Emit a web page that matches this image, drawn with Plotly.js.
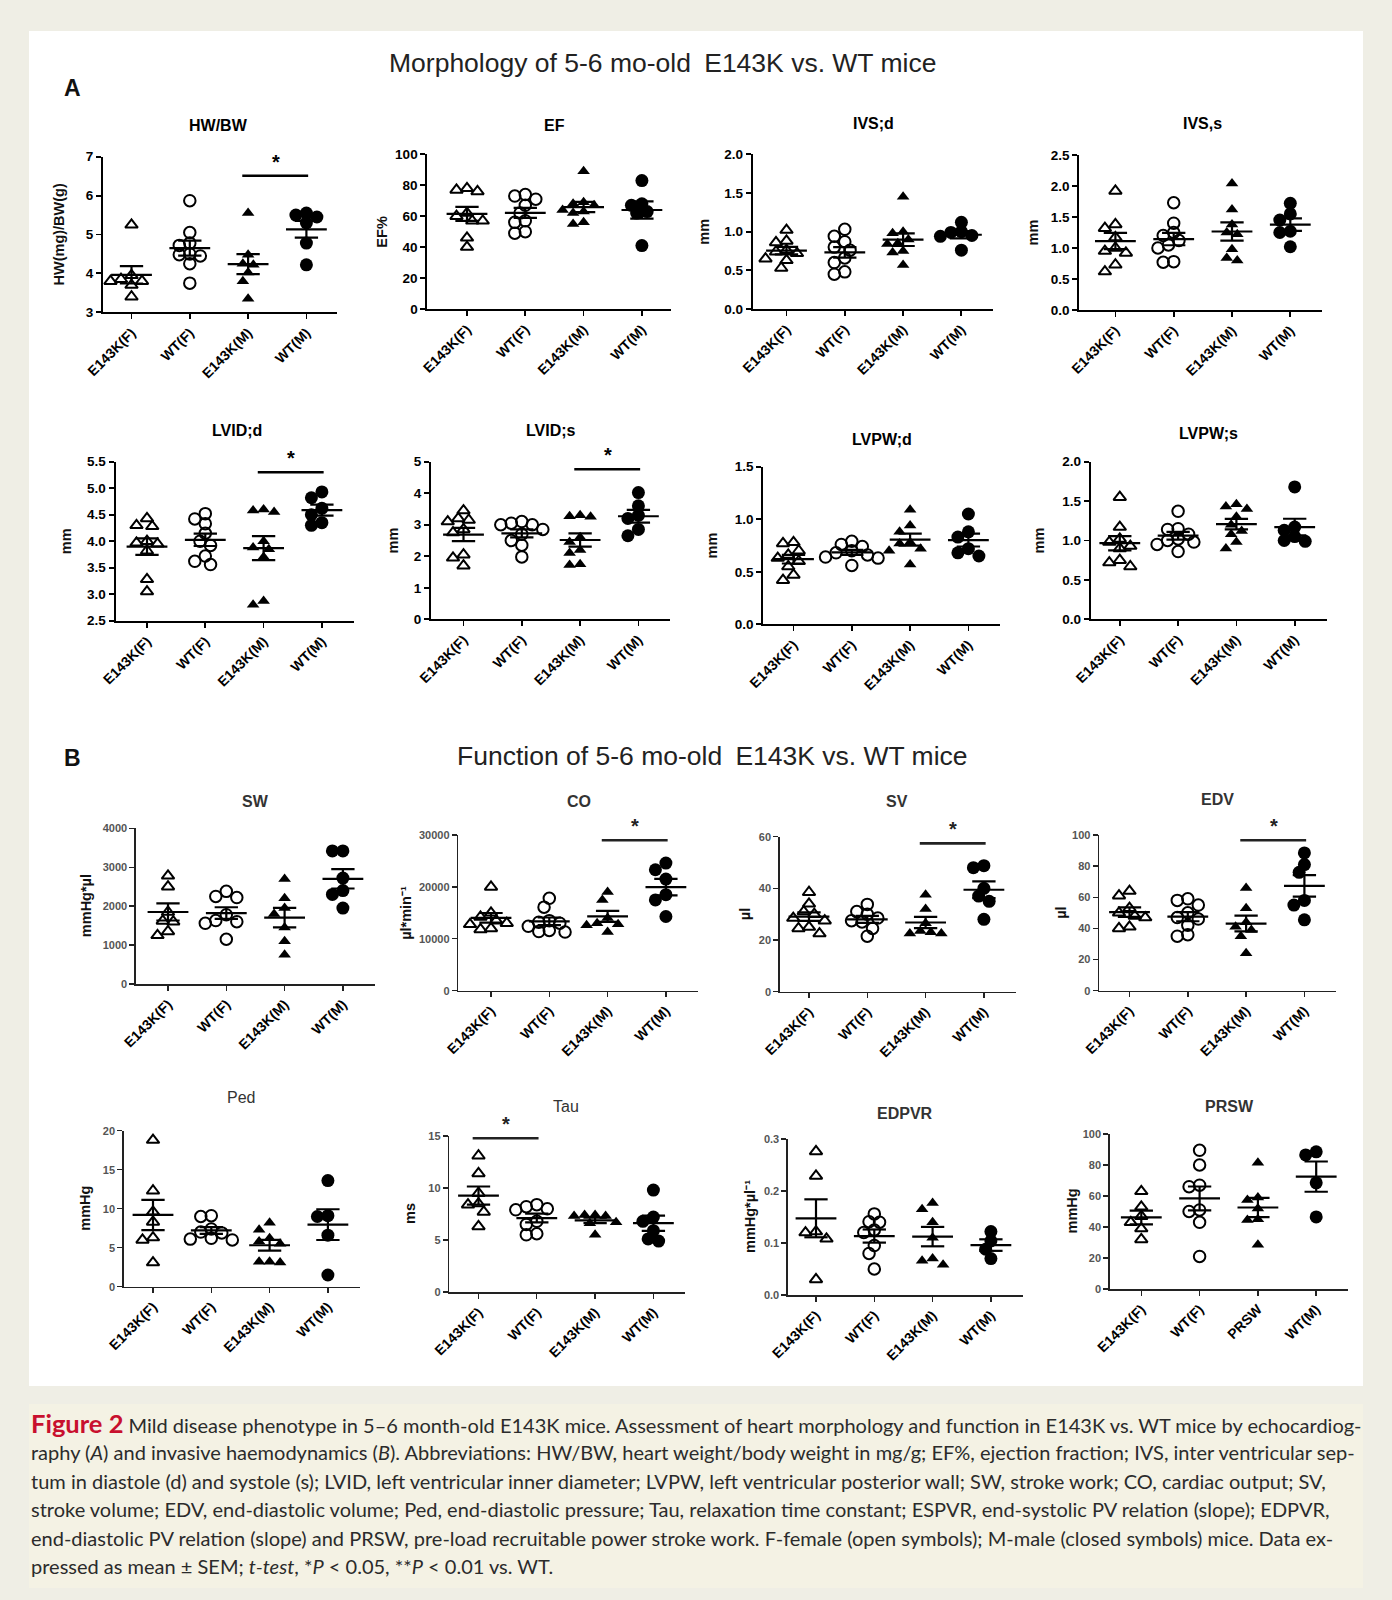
<!DOCTYPE html>
<html><head><meta charset="utf-8">
<script src="https://cdn.plot.ly/plotly-3.0.1.min.js"></script>
<style>html,body{margin:0;padding:0;background:#efeee5}</style>
</head><body><div id="chart" style="width:1392px;height:1600px"></div>
<script>
// ---------- categories ----------
const groups = ["E143K(F)", "WT(F)", "E143K(M)", "WT(M)"];
const groupsPRSW = ["E143K(F)", "WT(F)", "PRSW", "WT(M)"];

// ---------- values: [E143K(F), WT(F), E143K(M), WT(M)] ----------
const hwbw = [[5.25, 3.95, 3.85, 3.8, 3.8, 3.7, 3.4],
              [5.87, 5.05, 4.78, 4.72, 4.5, 4.48, 4.45, 4.25, 3.75],
              [5.55, 4.48, 4.25, 4.22, 4.02, 3.8, 3.35],
              [5.55, 5.5, 5.45, 5.3, 4.78, 4.22]];
const ef = [[78, 77, 76, 62, 60, 57, 57, 46, 40],
            [74, 73, 71, 67, 62, 57, 56, 50, 49],
            [89, 69, 68, 67, 64, 63, 62, 56, 55],
            [83, 68, 67, 63, 62, 41]];
const ivsd = [[1.02, 0.88, 0.86, 0.76, 0.74, 0.72, 0.65, 0.63, 0.53],
              [1.03, 0.94, 0.87, 0.8, 0.76, 0.66, 0.6, 0.48, 0.45],
              [1.45, 1.0, 0.98, 0.9, 0.85, 0.84, 0.75, 0.73, 0.57],
              [1.12, 1.0, 0.99, 0.95, 0.94, 0.76]];
const ivss = [[1.92, 1.38, 1.32, 1.17, 1.0, 0.95, 0.92, 0.73, 0.62],
              [1.73, 1.4, 1.25, 1.2, 1.12, 1.05, 1.0, 0.78, 0.77],
              [2.04, 1.62, 1.38, 1.25, 1.22, 0.98, 0.84, 0.8],
              [1.72, 1.55, 1.45, 1.27, 1.25, 1.02]];
const lvidd = [[4.43, 4.3, 4.28, 4.0, 3.97, 3.95, 3.82, 3.28, 3.05],
               [4.52, 4.42, 4.33, 4.15, 4.0, 3.92, 3.72, 3.62, 3.56],
               [4.6, 4.58, 4.55, 4.0, 3.88, 3.85, 3.7, 2.87, 2.8],
               [4.93, 4.82, 4.62, 4.5, 4.35, 4.3]];
const lvids = [[3.45, 3.2, 3.15, 3.1, 2.85, 2.75, 2.05, 1.95, 1.7],
               [3.1, 3.05, 3.0, 3.0, 2.85, 2.7, 2.5, 2.35, 1.98],
               [3.3, 3.27, 3.25, 2.6, 2.45, 2.2, 2.1, 1.75, 1.72],
               [4.02, 3.6, 3.3, 3.2, 2.85, 2.65]];
const lvpwd = [[0.78, 0.77, 0.7, 0.66, 0.63, 0.6, 0.55, 0.47, 0.42],
               [0.79, 0.76, 0.74, 0.7, 0.68, 0.66, 0.64, 0.63, 0.56],
               [1.09, 0.94, 0.88, 0.78, 0.77, 0.72, 0.7, 0.57],
               [1.05, 0.88, 0.83, 0.72, 0.68, 0.65]];
const lvpws = [[1.55, 1.17, 1.02, 0.98, 0.93, 0.9, 0.75, 0.72, 0.67],
               [1.37, 1.15, 1.14, 1.08, 1.02, 1.0, 0.98, 0.95, 0.86],
               [1.46, 1.43, 1.4, 1.3, 1.2, 1.12, 1.08, 0.98, 0.9],
               [1.68, 1.17, 1.13, 1.05, 1.0, 0.99]];
const sw = [[2780, 2500, 1850, 1620, 1600, 1350, 1250],
            [2380, 2250, 2220, 1780, 1630, 1600, 1560, 1150],
            [2700, 2200, 1950, 1800, 1450, 1100, 750],
            [3420, 3420, 2720, 2400, 2300, 1950]];
const co = [[20000, 15000, 14200, 13500, 13000, 12800, 12000, 11800],
            [17800, 16100, 13500, 13200, 13000, 12400, 11600, 11400, 11300],
            [19000, 17500, 14000, 13000, 12800, 12600, 11300],
            [24600, 23300, 21500, 18500, 17500, 14300]];
const sv = [[38.5, 34, 31, 30, 28.5, 27.5, 25, 24.5, 22.5],
            [33.8, 31, 30, 28.5, 27.5, 27, 24.5, 21.5],
            [37.5, 32, 26.5, 23.5, 23, 22.5, 22.5],
            [48.8, 48, 40, 37, 35, 28]];
const edv = [[64, 61, 53, 50, 48, 47, 41, 40],
             [59, 58, 55, 50, 47, 46, 42, 36, 35],
             [66, 53, 44, 41, 39, 35, 24],
             [88.5, 81, 76, 58, 55, 45.5]];
const ped = [[18.8, 12.3, 9.6, 8.3, 6.3, 6.0, 3.1],
             [9.1, 9.0, 7.4, 7.0, 6.9, 6.2, 6.1, 6.0],
             [8.2, 7.3, 6.2, 5.8, 5.5, 3.2, 3.2, 3.1],
             [13.6, 9.1, 9.0, 6.6, 1.5]];
const tau = [[13.1, 11.4, 9.5, 8.5, 8.4, 7.7, 6.3],
             [8.4, 8.2, 8.0, 7.9, 6.8, 6.5, 5.6, 5.5],
             [7.4, 7.4, 7.3, 7.3, 6.7, 6.6, 5.5],
             [9.8, 7.2, 6.8, 5.9, 5.1, 4.9]];
const edpvr = [[0.276, 0.229, 0.122, 0.12, 0.108, 0.03],
               [0.156, 0.141, 0.14, 0.125, 0.12, 0.095, 0.08, 0.05],
               [0.177, 0.165, 0.14, 0.11, 0.07, 0.066, 0.058],
               [0.122, 0.104, 0.088, 0.07]];
const prsw = [[63, 53, 47, 43, 39, 32],
              [89.5, 80, 67, 66, 51, 50, 43, 21],
              [81.5, 59, 57.5, 52, 45, 44.5, 28.5],
              [88.5, 86.5, 68.5, 46.5]];

// ---------- y tick values ----------
const ticksHW = [3, 4, 5, 6, 7];
const ticksEF = [0, 20, 40, 60, 80, 100];
const ticksIVSd = [0, 0.5, 1.0, 1.5, 2.0];
const ticksIVSs = [0, 0.5, 1.0, 1.5, 2.0, 2.5];
const ticksLVIDd = [2.5, 3.0, 3.5, 4.0, 4.5, 5.0, 5.5];
const ticksLVIDs = [0, 1, 2, 3, 4, 5];
const ticksLVPWd = [0, 0.5, 1.0, 1.5];
const ticksLVPWs = [0, 0.5, 1.0, 1.5, 2.0];
const ticksSW = [0, 1000, 2000, 3000, 4000];
const ticksCO = [0, 10000, 20000, 30000];
const ticksSV = [0, 20, 40, 60];
const ticksEDV = [0, 20, 40, 60, 80, 100];
const ticksPed = [0, 5, 10, 15, 20];
const ticksTau = [0, 5, 10, 15];
const ticksEDPVR = [0, 0.1, 0.2, 0.3];
const ticksPRSW = [0, 20, 40, 60, 80, 100];

// ---------- layout configuration (pixel geometry) ----------
const W = 1392, H = 1600, SP = 58.3;
const panels = [
 {title:'HW/BW', vals:hwbw, cats:groups, ticks:ticksHW, dec:0, ytitle:'HW(mg)/BW(g)', c0:131.5, pl:0.49, pr:0.52, yt:156.7, yb:312.3, tx:218.5, ty:126, ytx:58, sig:[2,3,19], sec:'A'},
 {title:'EF', vals:ef, cats:groups, ticks:ticksEF, dec:0, ytitle:'EF%', c0:467, pl:0.68, pr:0.5, yt:154.3, yb:309, tx:554, ty:126, ytx:382, sec:'A'},
 {title:'IVS;d', vals:ivsd, cats:groups, ticks:ticksIVSd, dec:1, ytitle:'mm', c0:786.5, pl:0.58, pr:0.55, yt:154.3, yb:309, tx:873.5, ty:123, ytx:704, sec:'A'},
 {title:'IVS,s', vals:ivss, cats:groups, ticks:ticksIVSs, dec:1, ytitle:'mm', c0:1115.4, pl:0.62, pr:0.55, yt:155, yb:310, tx:1202, ty:123, ytx:1033, sec:'A'},
 {title:'LVID;d', vals:lvidd, cats:groups, ticks:ticksLVIDd, dec:1, ytitle:'mm', c0:147, pl:0.54, pr:0.55, yt:461.7, yb:620.7, tx:237, ty:430, ytx:66, sig:[2,3,10.6], sec:'A'},
 {title:'LVID;s', vals:lvids, cats:groups, ticks:ticksLVIDs, dec:0, ytitle:'mm', c0:463.5, pl:0.56, pr:0.55, yt:461.7, yb:619.3, tx:551, ty:430, ytx:392, sig:[2,3,7.6], sec:'A'},
 {title:'LVPW;d', vals:lvpwd, cats:groups, ticks:ticksLVPWd, dec:1, ytitle:'mm', c0:793.5, pl:0.52, pr:0.55, yt:466.7, yb:624.3, tx:882, ty:439, ytx:711, sec:'A'},
 {title:'LVPW;s', vals:lvpws, cats:groups, ticks:ticksLVPWs, dec:1, ytitle:'mm', c0:1119.8, pl:0.5, pr:0.55, yt:461.7, yb:619.3, tx:1208, ty:433, ytx:1038, sec:'A'},
 {title:'SW', vals:sw, cats:groups, ticks:ticksSW, dec:0, ytitle:'mmHg*µl', c0:168, pl:0.55, pr:0.55, yt:828.3, yb:984, tx:255, ty:801, ytx:86, sec:'B'},
 {title:'CO', vals:co, cats:groups, ticks:ticksCO, dec:0, ytitle:'µl*min⁻¹', c0:491, pl:0.56, pr:0.55, yt:835, yb:990.7, tx:578.6, ty:801, ytx:406, sig:[2,3,5.3], sec:'B'},
 {title:'SV', vals:sv, cats:groups, ticks:ticksSV, dec:0, ytitle:'µl', c0:809, pl:0.5, pr:0.55, yt:836.7, yb:991.7, tx:897, ty:801, ytx:745, sig:[2,3,6.7], sec:'B'},
 {title:'EDV', vals:edv, cats:groups, ticks:ticksEDV, dec:0, ytitle:'µl', c0:1129.5, pl:0.52, pr:0.55, yt:835, yb:990.7, tx:1217.5, ty:799, ytx:1061, sig:[2,3,5.3], sec:'B'},
 {title:'Ped', vals:ped, cats:groups, ticks:ticksPed, dec:0, ytitle:'mmHg', c0:153, pl:0.5, pr:0.55, yt:1130.7, yb:1286.7, tx:241, ty:1097, ytx:85, sec:'B', light:true},
 {title:'Tau', vals:tau, cats:groups, ticks:ticksTau, dec:0, ytitle:'ms', c0:478.5, pl:0.5, pr:0.55, yt:1136, yb:1292, tx:566, ty:1106, ytx:410, sig:[0,1,2.3], sec:'B', light:true},
 {title:'EDPVR', vals:edpvr, cats:groups, ticks:ticksEDPVR, dec:1, ytitle:'mmHg*µl⁻¹', c0:816, pl:0.48, pr:0.55, yt:1139, yb:1295, tx:905, ty:1113, ytx:750, sec:'B'},
 {title:'PRSW', vals:prsw, cats:groupsPRSW, ticks:ticksPRSW, dec:0, ytitle:'mmHg', c0:1141.3, pl:0.54, pr:0.55, yt:1134, yb:1289, tx:1229, ty:1106, ytx:1071, sec:'B'}
];

const FONT = 'Liberation Sans, Arial, Helvetica, sans-serif';
const symbols = ['triangle-up-open', 'circle-open', 'triangle-up', 'circle'];
const msize = [11, 11.5, 11, 13];
const D = 10.5; // marker footprint for spreading (px)

function meanSem(a) {
  const n = a.length, m = a.reduce((s, v) => s + v, 0) / n;
  const sd = Math.sqrt(a.reduce((s, v) => s + (v - m) * (v - m), 0) / (n - 1));
  return [m, sd / Math.sqrt(n)];
}
function spread(vals, pxU) {
  const order = vals.map((v, i) => i).sort((a, b) => vals[b] - vals[a]);
  const cands = [0];
  for (let k = 1; k <= 14; k++) cands.push(-k * D / 2, k * D / 2);
  const placed = [], out = new Array(vals.length).fill(0);
  order.forEach(i => {
    const py = vals[i] * pxU;
    let ch = 0;
    for (const c of cands) {
      if (placed.every(p => Math.hypot(p[0] - c, p[1] - py) >= D * 0.88)) { ch = c; break; }
    }
    placed.push([ch, py]); out[i] = ch;
  });
  return out;
}

const traces = [], shapes = [], annotations = [];
const layout = {
  width: W, height: H, margin: {l: 0, r: 0, t: 0, b: 0},
  paper_bgcolor: '#efeee5', plot_bgcolor: 'rgba(0,0,0,0)',
  showlegend: false, font: {family: FONT, color: '#000'}
};

// backgrounds
shapes.push({type: 'rect', xref: 'paper', yref: 'paper', x0: 29 / W, x1: 1363 / W, y0: 1 - 1386 / H, y1: 1 - 31 / H,
  fillcolor: '#ffffff', line: {width: 0}, layer: 'below'});
shapes.push({type: 'rect', xref: 'paper', yref: 'paper', x0: 29 / W, x1: 1363 / W, y0: 1 - 1588 / H, y1: 1 - 1404 / H,
  fillcolor: '#f4f2e4', line: {width: 0}, layer: 'below'});

panels.forEach((p, k) => {
  const n = k + 1, xa = 'x' + (n === 1 ? '' : n), ya = 'y' + (n === 1 ? '' : n);
  const yr = [p.ticks[0], p.ticks[p.ticks.length - 1]];
  const pxU = (p.yb - p.yt) / (yr[1] - yr[0]);
  const x0 = p.c0 - p.pl * SP, x1 = p.c0 + (3 + p.pr) * SP;
  const B = p.sec === 'B';
  const axCol = B ? '#222' : '#000';
  layout['xaxis' + (n === 1 ? '' : n)] = {
    domain: [x0 / W, x1 / W], range: [-p.pl, 3 + p.pr], anchor: ya,
    showline: true, linecolor: axCol, linewidth: B ? 1.6 : 2, mirror: false,
    ticks: 'outside', ticklen: 5, tickwidth: B ? 1.4 : 1.8, tickcolor: axCol,
    tickmode: 'array', tickvals: [0, 1, 2, 3], ticktext: p.cats, tickangle: -45,
    tickfont: {family: FONT, size: 14, weight: 700, color: '#000'},
    showgrid: false, zeroline: false, fixedrange: true
  };
  layout['yaxis' + (n === 1 ? '' : n)] = {
    domain: [1 - p.yb / H, 1 - p.yt / H], range: yr, anchor: xa,
    showline: true, linecolor: axCol, linewidth: B ? 1.6 : 2,
    ticks: 'outside', ticklen: 5, tickwidth: B ? 1.4 : 1.8, tickcolor: axCol,
    tickmode: 'array', tickvals: p.ticks, ticktext: p.ticks.map(v => v.toFixed(p.dec)),
    tickfont: {family: FONT, size: B ? 11 : 13.5, weight: 700, color: B ? '#555' : '#000'},
    showgrid: false, zeroline: false, fixedrange: true
  };
  // points
  p.vals.forEach((arr, g) => {
    const offs = spread(arr, pxU);
    traces.push({
      type: 'scatter', mode: 'markers', xaxis: xa, yaxis: ya, cliponaxis: false,
      x: arr.map((v, i) => g + offs[i] / SP), y: arr, hoverinfo: 'skip',
      marker: {symbol: symbols[g], size: msize[g], color: '#000',
        line: {color: '#000', width: g < 2 ? 2 : 0}}
    });
  });
  // mean and SEM
  const lx = [], ly = [];
  p.vals.forEach((arr, g) => {
    const [m, s] = meanSem(arr);
    lx.push(g - 0.35, g + 0.35, null, g - 0.2, g + 0.2, null, g, g, null, g - 0.2, g + 0.2, null);
    ly.push(m, m, null, m + s, m + s, null, m + s, m - s, null, m - s, m - s, null);
  });
  traces.push({type: 'scatter', mode: 'lines', xaxis: xa, yaxis: ya, x: lx, y: ly, cliponaxis: false,
    hoverinfo: 'skip', line: {color: '#000', width: 2.2}});
  // significance bar
  if (p.sig) {
    const by = 1 - (p.yt + p.sig[2]) / H;
    shapes.push({type: 'line', xref: xa, yref: 'paper', x0: p.sig[0] - 0.1, x1: p.sig[1] + 0.03, y0: by, y1: by,
      line: {color: B ? '#222' : '#000', width: 2.6}});
    annotations.push({xref: xa, yref: 'paper', x: (p.sig[0] + p.sig[1]) / 2 - 0.03, y: by + 1 / H, yanchor: 'bottom',
      xanchor: 'center', showarrow: false, text: '<b>*</b>', font: {family: FONT, size: 20, color: B ? '#222' : '#000'}});
  }
  // panel title
  annotations.push({xref: 'paper', yref: 'paper', x: p.tx / W, y: 1 - p.ty / H, xanchor: 'center', yanchor: 'middle',
    showarrow: false, text: p.light ? p.title : '<b>' + p.title + '</b>',
    font: {family: FONT, size: 16, color: B ? '#333' : '#000'}});
  // y title
  annotations.push({xref: 'paper', yref: 'paper', x: p.ytx / W, y: 1 - (p.yt + p.yb) / 2 / H, xanchor: 'center', yanchor: 'middle',
    showarrow: false, textangle: -90, text: '<b>' + p.ytitle + '</b>',
    font: {family: FONT, size: 14.5, color: '#111'}});
});

// section titles and letters
annotations.push({xref: 'paper', yref: 'paper', x: 662 / W, y: 1 - 63 / H, xanchor: 'center', yanchor: 'middle', showarrow: false,
  text: 'Morphology of 5-6 mo-old\u2002E143K vs. WT mice', font: {family: FONT, size: 26.5, color: '#222'}});
annotations.push({xref: 'paper', yref: 'paper', x: 712 / W, y: 1 - 756 / H, xanchor: 'center', yanchor: 'middle', showarrow: false,
  text: 'Function of 5-6 mo-old\u2002E143K vs. WT mice', font: {family: FONT, size: 26.5, color: '#222'}});
annotations.push({xref: 'paper', yref: 'paper', x: 72 / W, y: 1 - 88 / H, xanchor: 'center', yanchor: 'middle', showarrow: false,
  text: '<b>A</b>', font: {family: FONT, size: 23, color: '#111'}});
annotations.push({xref: 'paper', yref: 'paper', x: 72 / W, y: 1 - 758 / H, xanchor: 'center', yanchor: 'middle', showarrow: false,
  text: '<b>B</b>', font: {family: FONT, size: 23, color: '#111'}});

// caption
const captionLines = [
  '<span style="color:#c8102e;font-weight:bold;font-size:25.5px">Figure 2</span> Mild disease phenotype in 5–6 month-old E143K mice. Assessment of heart morphology and function in E143K vs. WT mice by echocardiog-',
  'raphy (<i>A</i>) and invasive haemodynamics (<i>B</i>). Abbreviations: HW/BW, heart weight/body weight in mg/g; EF%, ejection fraction; IVS, inter ventricular sep-',
  'tum in diastole (d) and systole (s); LVID, left ventricular inner diameter; LVPW, left ventricular posterior wall; SW, stroke work; CO, cardiac output; SV,',
  'stroke volume; EDV, end-diastolic volume; Ped, end-diastolic pressure; Tau, relaxation time constant; ESPVR, end-systolic PV relation (slope); EDPVR,',
  'end-diastolic PV relation (slope) and PRSW, pre-load recruitable power stroke work. F-female (open symbols); M-male (closed symbols) mice. Data ex-',
  'pressed as mean ± SEM; <i>t-test</i>, *<i>P</i> &lt; 0.05, **<i>P</i> &lt; 0.01 vs. WT.'
];
const capY = [1423, 1452, 1481, 1509, 1538, 1566];
captionLines.forEach((t, i) => {
  annotations.push({xref: 'paper', yref: 'paper', x: 29 / W, y: 1 - capY[i] / H, xanchor: 'left', yanchor: 'middle',
    showarrow: false, align: 'left', text: t, font: {family: 'Lato, Noto Sans, sans-serif', size: 20, color: '#2b2b2b'}});
});

layout.shapes = shapes;
layout.annotations = annotations;
Plotly.newPlot('chart', traces, layout, {displayModeBar: false, staticPlot: true});
</script></body></html>
